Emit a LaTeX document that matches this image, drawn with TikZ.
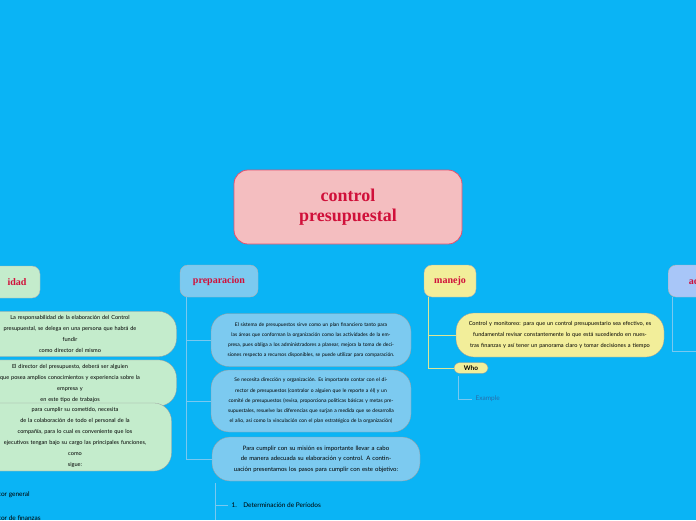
\documentclass[tikz,border=0pt]{standalone}
\usepackage{fontspec}
\setmainfont{Lato}
\newfontfamily\headfont{Liberation Serif}
\usetikzlibrary{positioning}
\definecolor{bgblue}{RGB}{10,180,245}
\definecolor{pinkfill}{RGB}{244,190,192}
\definecolor{pinkline}{RGB}{228,80,110}
\definecolor{headred}{RGB}{208,16,58}
\definecolor{greenfill}{RGB}{196,236,204}
\definecolor{bluefill}{RGB}{124,202,240}
\definecolor{yellowfill}{RGB}{242,238,154}
\definecolor{lilacfill}{RGB}{168,198,248}
\definecolor{linegreen}{RGB}{150,225,200}
\definecolor{lineblue}{RGB}{120,200,240}
\definecolor{lineyellow}{RGB}{220,230,150}
\definecolor{examplecol}{RGB}{40,110,170}
\tikzset{
  head/.style={draw=white!70!black, line width=0.4pt, rounded corners=8pt, minimum height=32pt, inner sep=3pt,
    font=\headfont\bfseries\fontsize{10}{12}\selectfont, text=headred},
  leaf/.style={rounded corners=18pt, inner sep=4pt, align=center, font=\fontsize{5.6}{11}\selectfont, draw=white!60!black, line width=0.3pt},
  conn/.style={line width=0.8pt}
}
\begin{document}
\begin{tikzpicture}[x=1pt,y=-1pt]
\useasboundingbox (0,0) rectangle (696,520);
\fill[bgblue] (0,0) rectangle (696,520);
\clip (0,0) rectangle (696,520);

% central topic
\node[draw=pinkline, line width=0.8pt, fill=pinkfill, rounded corners=14pt, minimum width=228pt, minimum height=74pt,
  align=center, font=\headfont\bfseries\fontsize{18}{20}\selectfont, text=headred] (root) at (348,207) {control\\ presupuestal};

% headers
\node[head, fill=greenfill, minimum width=60pt] (resp) at (10,282) {\hspace*{14pt}idad};
\node[head, fill=bluefill, minimum width=78pt] (prep) at (219,281) {preparacion};
\node[head, fill=yellowfill, minimum width=52pt] (manejo) at (450,281) {manejo};
\node[head, fill=lilacfill, minimum width=60pt, anchor=west] (adm) at (668,281) {adm};

% responsabilidad
\node[leaf, fill=greenfill, text width=205pt, minimum height=45pt] (r1) at (70,334) {La responsabilidad de la elaboración del Control\\ presupuestal, se delega en una persona que habrá de\\ fundir\\ como director del mismo};
\node[leaf, fill=greenfill, text width=205pt, minimum height=43pt] (r2) at (70,383) {El director del presupuesto, deberá ser alguien\\ que posea amplios conocimientos y experiencia sobre la\\ empresa y\\ en este tipo de trabajos};
\node[leaf, fill=greenfill, text width=185pt, minimum height=60pt] (r3) at (75,437) {para cumplir su cometido, necesita\\ de la colaboración de todo el personal de la\\ compañía, para lo cual es conveniente que los\\ ejecutivos tengan bajo su cargo las principales funciones,\\ como\\ sigue:};
\node[anchor=west, font=\fontsize{6.5}{8}\selectfont] (r4) at (-20,495) {Director general};
\node[anchor=west, font=\fontsize{6.5}{8}\selectfont] (r5) at (-20,518) {Director de finanzas};

% preparacion
\node[leaf, fill=bluefill, text width=192pt, minimum height=53pt, font=\fontsize{5}{10.2}\selectfont] (p1) at (311,340) {El sistema de presupuestos sirve como un plan financiero tanto para las áreas que conforman la organización como las actividades de la empresa, pues obliga a los administradores a planear, mejora la toma de decisiones respecto a recursos disponibles, se puede utilizar para comparación.};
\node[leaf, fill=bluefill, text width=192pt, minimum height=62pt, font=\fontsize{5}{10.2}\selectfont] (p2) at (311,401) {Se necesita dirección y organización. Es importante contar con el director de presupuestos (contralor o alguien que le reporte a él) y un comité de presupuestos (revisa, proporciona políticas básicas y metas presupuestales, resuelve las diferencias que surjan a medida que se desarrolla el año, así como la vinculación con el plan estratégico de la organización)};
\node[leaf, fill=bluefill, text width=200pt, minimum height=44pt, font=\fontsize{6}{10.5}\selectfont] (p3) at (316,459) {Para cumplir con su misión es importante llevar a cabo de manera adecuada su elaboración y control. A continuación presentamos los pasos para cumplir con este objetivo:};
\node[anchor=west, font=\fontsize{6.5}{8}\selectfont] (p4) at (228,505) {1.\quad Determinación de Períodos};
\coordinate (pt) at (186,297);
\draw[lineblue, conn] (pt) |- (p1.west);
\draw[lineblue, conn] (pt) |- (p2.west);
\draw[lineblue, conn] (pt) |- (p3.west);
\coordinate (ps) at (215,483);
\draw[lineblue, conn] (ps) -- (215,520);
\draw[lineblue, conn] (ps) |- (p4.west);

% manejo
\node[leaf, fill=yellowfill, text width=200pt, minimum height=44pt] (m1) at (560,335) {Control y monitoreo: para que un control presupuestario sea efectivo, es fundamental revisar constantemente lo que está sucediendo en nuestras finanzas y así tener un panorama claro y tomar decisiones a tiempo};
\node[leaf, fill=yellowfill, rounded corners=6pt, inner sep=3pt, minimum width=34pt, font=\bfseries\fontsize{6.5}{8}\selectfont] (who) at (471,368) {Who};
\node[anchor=west, text=examplecol, font=\fontsize{6.5}{8}\selectfont] (ex) at (472,399) {Example};
\coordinate (mt) at (428,297);
\draw[lineyellow, conn] (mt) |- (m1.west);
\draw[lineyellow, conn] (mt) |- (who.west);
\coordinate (wt) at (458,376);
\draw[lineblue, conn] (wt) |- (ex.west);

% administracion
\coordinate (at) at (672,297);
\draw[lineblue, conn] (at) |- (696,351);
\end{tikzpicture}
\end{document}
